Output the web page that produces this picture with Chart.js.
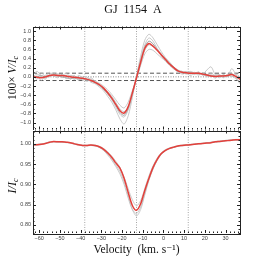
<!DOCTYPE html>
<html>
<head>
<meta charset="utf-8">
<script src="https://cdn.jsdelivr.net/npm/chart.js@4.4.1/dist/chart.umd.min.js"></script>
<style>
html, body { margin: 0; padding: 0; background: #fff; }
#wrap { position: relative; width: 266px; height: 266px; }
canvas { position: absolute; left: 0; }
</style>
</head>
<body>
<div id="wrap">
<canvas id="stokesV" width="266" height="130" style="top:0"></canvas>
<canvas id="stokesI" width="266" height="136" style="top:130px"></canvas>
</div>
<script>
// velocity grid (km/s)
const velocity = [-63,-61,-59,-57,-55,-53,-51,-49,-47,-45,-43,-41,-39,-37,-35,-33,-31,-29,-27,-25,-23,-21,-19,-17,-15,-13,-11,-9,-7,-5,-3,-1,1,3,5,7,9,11,13,15,17,19,21,23,25,27,29,31,33,35,37];

// Stokes V (x100), mean profile
const vMean = [0.00,-0.01,-0.02,0.00,0.03,0.04,0.03,0.03,0.02,0.00,-0.01,-0.02,-0.03,-0.05,-0.08,-0.12,-0.17,-0.24,-0.34,-0.46,-0.60,-0.74,-0.79,-0.65,-0.35,-0.02,0.32,0.62,0.73,0.67,0.58,0.48,0.38,0.28,0.20,0.13,0.10,0.09,0.08,0.08,0.08,0.06,0.04,0.02,0.01,0.02,0.02,0.03,0.05,0.01,-0.05];
// Stokes V individual observations
const vObs1 = [0.05,0.12,0.02,-0.05,0.06,0.08,0.00,0.05,-0.04,0.02,-0.06,0.01,-0.08,-0.04,-0.12,-0.15,-0.22,-0.30,-0.42,-0.55,-0.72,-0.92,-1.03,-0.85,-0.45,0.02,0.45,0.80,0.93,0.85,0.70,0.55,0.42,0.32,0.22,0.15,0.12,0.10,0.12,0.09,0.10,0.06,0.15,0.22,0.05,-0.02,0.04,0.00,0.18,0.05,-0.08];
const vObs2 = [-0.04,0.02,-0.08,0.04,0.00,0.06,0.05,-0.02,0.04,-0.05,0.03,-0.08,0.00,-0.10,-0.05,-0.12,-0.14,-0.20,-0.28,-0.38,-0.50,-0.62,-0.68,-0.55,-0.30,-0.05,0.25,0.50,0.60,0.58,0.50,0.42,0.34,0.25,0.17,0.12,0.06,0.08,0.03,0.07,0.04,0.08,0.00,0.05,-0.03,0.04,-0.02,0.06,0.02,-0.04,-0.12];
const vObs3 = [0.02,-0.05,0.08,0.02,0.10,0.00,0.07,0.02,0.08,0.00,-0.04,0.03,-0.02,-0.08,-0.02,-0.10,-0.18,-0.25,-0.36,-0.50,-0.66,-0.82,-0.88,-0.72,-0.40,0.00,0.38,0.70,0.85,0.78,0.62,0.50,0.40,0.30,0.21,0.14,0.08,0.12,0.06,0.10,0.05,0.09,0.03,0.08,0.02,0.00,0.05,0.01,0.08,-0.02,-0.15];
const vObs4 = [0.00,0.06,0.00,-0.03,0.04,0.02,-0.02,0.06,0.00,0.03,0.02,-0.04,-0.06,0.00,-0.10,-0.08,-0.16,-0.26,-0.32,-0.42,-0.56,-0.70,-0.76,-0.66,-0.33,-0.04,0.28,0.58,0.70,0.66,0.60,0.46,0.36,0.26,0.18,0.11,0.12,0.06,0.10,0.05,0.11,0.03,0.06,0.00,0.04,0.05,-0.01,0.04,0.00,0.06,0.00];
const vObs5 = [-0.02,0.00,0.03,0.00,0.02,0.05,0.02,0.00,-0.02,-0.04,-0.03,-0.05,-0.04,-0.06,-0.09,-0.13,-0.19,-0.27,-0.37,-0.48,-0.62,-0.78,-0.84,-0.70,-0.38,-0.01,0.35,0.66,0.78,0.72,0.60,0.49,0.39,0.30,0.21,0.14,0.10,0.09,0.09,0.07,0.09,0.05,0.04,0.02,0.02,0.01,0.03,0.02,0.06,0.00,-0.06];

// Stokes I, mean profile and individual observations
const iMean = [0.998,0.998,0.999,1.001,1.004,1.006,1.005,1.005,1.004,1.003,1.000,0.998,0.996,0.996,0.997,0.996,0.993,0.987,0.978,0.967,0.953,0.940,0.915,0.880,0.848,0.836,0.852,0.885,0.915,0.942,0.962,0.976,0.984,0.989,0.992,0.995,0.996,0.997,0.998,0.999,1.000,1.001,1.002,1.003,1.005,1.006,1.007,1.008,1.009,1.010,1.010];
const iObs1 = [0.997,0.998,0.999,1.002,1.005,1.006,1.006,1.005,1.004,1.002,0.999,0.997,0.995,0.995,0.996,0.995,0.992,0.985,0.975,0.963,0.948,0.932,0.906,0.872,0.838,0.822,0.838,0.874,0.910,0.938,0.959,0.974,0.983,0.988,0.991,0.994,0.995,0.996,0.997,0.999,1.000,1.001,1.002,1.003,1.004,1.005,1.006,1.008,1.009,1.010,1.011];
const iObs2 = [0.999,0.999,1.000,1.001,1.004,1.005,1.005,1.004,1.004,1.003,1.001,0.999,0.997,0.997,0.998,0.997,0.994,0.989,0.981,0.970,0.957,0.942,0.918,0.889,0.862,0.847,0.860,0.890,0.921,0.946,0.965,0.978,0.986,0.990,0.993,0.995,0.997,0.998,0.999,1.000,1.001,1.002,1.003,1.004,1.006,1.007,1.008,1.009,1.010,1.011,1.011];
const iObs3 = [0.998,0.997,0.998,1.001,1.003,1.005,1.004,1.004,1.003,1.002,1.000,0.998,0.996,0.996,0.996,0.995,0.991,0.984,0.973,0.960,0.944,0.926,0.900,0.866,0.838,0.828,0.844,0.878,0.912,0.939,0.960,0.975,0.984,0.989,0.992,0.994,0.996,0.997,0.998,0.999,1.000,1.001,1.002,1.004,1.005,1.006,1.008,1.009,1.010,1.009,1.008];

// markers
const lineCentres = [-38, -13, 12];
const nullBand = [-0.08, 0.08];

// axes
const xRange = [-63, 37];
const xTicks = [-60, -50, -40, -30, -20, -10, 0, 10, 20, 30];
const vRange = [-1.15, 1.1];
const vTicks = [-1.0, -0.8, -0.6, -0.4, -0.2, 0.0, 0.2, 0.4, 0.6, 0.8, 1.0];
const iRange = [0.78, 1.033];
const iTicks = [0.80, 0.85, 0.90, 0.95, 1.00];

const RED = "#e3403b";
const GREY = "#bdbdbd";
const tickFont = { family: "'Liberation Sans', sans-serif", size: 5.5 };
const serif = "'Liberation Serif', 'DejaVu Serif', serif";

function pts(ys) {
   return velocity.map((v, i) => ({ x: v, y: ys[i] }));
}

function curve(ys, color, width, order) {
   return { data: pts(ys), borderColor: color, borderWidth: width, pointRadius: 0, tension: 0.3, order: order };
}

function vline(v, range) {
   return { data: [{ x: v, y: range[0] }, { x: v, y: range[1] }], borderColor: "#808080", borderWidth: 0.7, borderDash: [1, 1.5], pointRadius: 0, order: 5 };
}

function hline(y, dash, color) {
   return { data: [{ x: xRange[0], y: y }, { x: xRange[1], y: y }], borderColor: color, borderWidth: 1, borderDash: dash, pointRadius: 0, order: 4 };
}

const minus = s => String(s).replace("-", "\u2212");

// frame, inward ticks, and axis labels with subscripts
const framePlugin = {
   id: "frame",
   afterDraw(chart, args, opts) {
      const { ctx, chartArea: a, scales: { x, y } } = chart;
      ctx.save();
      ctx.strokeStyle = "#222";
      ctx.lineWidth = 1;
      ctx.strokeRect(Math.round(a.left) + 0.5, Math.round(a.top) + 0.5, Math.round(a.right - a.left), Math.round(a.bottom - a.top));
      ctx.beginPath();
      for (let v = -62; v <= x.max; v += 2) {
         const px = Math.round(x.getPixelForValue(v)) + 0.5;
         const len = v % 10 === 0 ? 3 : 1.5;
         ctx.moveTo(px, a.top); ctx.lineTo(px, a.top + len);
         ctx.moveTo(px, a.bottom); ctx.lineTo(px, a.bottom - len);
      }
      for (let k = Math.ceil(y.min / opts.yMinor); k * opts.yMinor <= y.max; k++) {
         const val = k * opts.yMinor;
         const py = Math.round(y.getPixelForValue(val)) + 0.5;
         const major = Math.abs(val / opts.yMajor - Math.round(val / opts.yMajor)) < 1e-6;
         const len = major ? 3 : 1.5;
         ctx.moveTo(a.left, py); ctx.lineTo(a.left + len, py);
         ctx.moveTo(a.right, py); ctx.lineTo(a.right - len, py);
      }
      ctx.stroke();

      // y label
      ctx.fillStyle = "#111";
      ctx.translate(opts.labelX, opts.labelY);
      ctx.rotate(-Math.PI / 2);
      const parts = opts.label;
      let w = 0;
      parts.forEach(p => { ctx.font = p.font; w += ctx.measureText(p.text).width; });
      let cx = -w / 2;
      ctx.textBaseline = "middle";
      parts.forEach(p => {
         ctx.font = p.font;
         ctx.fillText(p.text, cx, p.dy || 0);
         cx += ctx.measureText(p.text).width;
      });
      ctx.restore();

      if (opts.title) {
         ctx.save();
         ctx.fillStyle = "#111";
         ctx.font = "12px " + serif;
         ctx.textAlign = "center";
         ctx.textBaseline = "middle";
         ctx.fillText(opts.title, 133, 10);
         ctx.restore();
      }
   }
};

function xScale(showLabels) {
   return {
      type: "linear",
      min: xRange[0],
      max: xRange[1],
      afterBuildTicks: s => { s.ticks = xTicks.map(v => ({ value: v })); },
      afterFit: s => {
         s.height = showLabels ? 33 : 0.5;
         s.paddingLeft = 0; s.paddingRight = 0; s.paddingTop = 0; s.paddingBottom = 0;
      },
      grid: { display: false, drawTicks: false },
      border: { display: false },
      ticks: { display: showLabels, font: tickFont, color: "#444", padding: 2, maxRotation: 0, callback: v => minus(v) },
      title: {
         display: showLabels,
         text: "Velocity  (km. s\u207B\u00B9)",
         font: { family: serif, size: 11.5 },
         color: "#111",
         padding: { top: 0, bottom: 9.5 }
      }
   };
}

function yScale(range, ticks, digits) {
   return {
      type: "linear",
      min: range[0],
      max: range[1],
      afterBuildTicks: s => { s.ticks = ticks.map(v => ({ value: v })); },
      afterFit: s => {
         s.width = 33;
         s.paddingLeft = 0; s.paddingRight = 0; s.paddingTop = 0; s.paddingBottom = 0;
      },
      grid: { display: false, drawTicks: false },
      border: { display: false },
      ticks: { font: tickFont, color: "#444", padding: 2, callback: v => minus(v.toFixed(digits)) }
   };
}

Chart.defaults.animation = false;

new Chart(document.getElementById("stokesV").getContext("2d"), {
   type: "line",
   data: {
      datasets: [
         curve(vObs1, GREY, 0.8, 3),
         curve(vObs2, GREY, 0.8, 3),
         curve(vObs3, GREY, 0.8, 3),
         curve(vObs4, GREY, 0.8, 3),
         curve(vObs5, "#8c8c8c", 0.8, 3),
         hline(0, [1, 1.5], "#888"),
         hline(nullBand[0], [4, 2.5], "#555"),
         hline(nullBand[1], [4, 2.5], "#555"),
         ...lineCentres.map(v => vline(v, vRange)),
         curve(vMean, RED, 1.5, 1)
      ]
   },
   options: {
      responsive: false,
      layout: { padding: { left: 0, right: 26, top: 26.5, bottom: 0 } },
      scales: { x: xScale(false), y: yScale(vRange, vTicks, 1) },
      plugins: {
         legend: { display: false },
         tooltip: { enabled: false },
         frame: {
            yMinor: 0.1, yMajor: 0.2,
            labelX: 13, labelY: 78,
            title: "GJ  1154  A",
            label: [
               { text: "100\u00D7 ", font: "11.5px " + serif },
               { text: "V/I", font: "italic 11.5px " + serif },
               { text: "c", font: "italic 8px " + serif, dy: 3 }
            ]
         }
      }
   },
   plugins: [framePlugin]
});

new Chart(document.getElementById("stokesI").getContext("2d"), {
   type: "line",
   data: {
      datasets: [
         curve(iObs1, GREY, 0.8, 3),
         curve(iObs2, GREY, 0.8, 3),
         curve(iObs3, GREY, 0.8, 3),
         ...lineCentres.map(v => vline(v, iRange)),
         curve(iMean, RED, 1.5, 1)
      ]
   },
   options: {
      responsive: false,
      layout: { padding: { left: 0, right: 26, top: 0.5, bottom: 0 } },
      scales: { x: xScale(true), y: yScale(iRange, iTicks, 2) },
      plugins: {
         legend: { display: false },
         tooltip: { enabled: false },
         frame: {
            yMinor: 0.01, yMajor: 0.05,
            labelX: 13, labelY: 56,
            label: [
               { text: "I/I", font: "italic 12px " + serif },
               { text: "c", font: "italic 8px " + serif, dy: 3 }
            ]
         }
      }
   },
   plugins: [framePlugin]
});
</script>
</body>
</html>
